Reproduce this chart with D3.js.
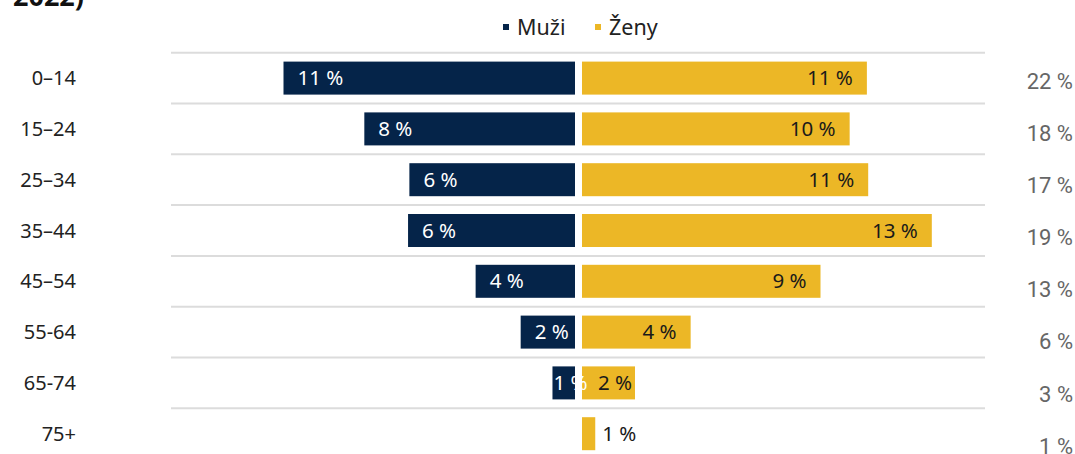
<!DOCTYPE html>
<html>
<head>
<meta charset="UTF-8" />
<title>Věkové složení</title>
<style>
  body { margin: 0; background: #fff; }
  svg { display: block; }
  .grid line { stroke: #dcdcdc; stroke-width: 2px; }
  .age { font-family: "Noto Sans", sans-serif; font-size: 20px; fill: #222; }
  .lbl { font-family: "Noto Sans", sans-serif; font-size: 20.5px; }
  .total { font-family: Roboto, "Liberation Sans", sans-serif; font-size: 22px; fill: #666; }
  .legend text { font-family: "Noto Sans", sans-serif; font-size: 21.5px; fill: #222; }
</style>
<script src="https://d3js.org/d3.v7.min.js"></script>
</head>
<body>
<script>
var ages = ["0–14", "15–24", "25–34", "35–44", "45–54", "55-64", "65-74", "75+"];
var men = [11.0, 7.95, 6.25, 6.3, 3.75, 2.05, 0.85, 0];
var women = [10.75, 10.1, 10.8, 13.2, 9.0, 4.1, 2.0, 0.5];
var menLabels = ["11 %", "8 %", "6 %", "6 %", "4 %", "2 %", "1 %", ""];
var womenLabels = ["11 %", "10 %", "11 %", "13 %", "9 %", "4 %", "2 %", "1 %"];
var totals = ["22 %", "18 %", "17 %", "19 %", "13 %", "6 %", "3 %", "1 %"];
var series = ["Muži", "Ženy"];
var colors = ["#052449", "#ecb726"];

var width = 1075, height = 454;
var center = 578.5, gap = 3.5;

var svg = d3.select("body").append("svg")
    .attr("width", width)
    .attr("height", height);

// title, cut off at the top
svg.append("text")
    .attr("x", 13)
    .attr("y", 6)
    .style("font-family", "'Noto Sans', sans-serif")
    .style("font-weight", "bold")
    .style("font-size", "27px")
    .style("fill", "#111")
    .text("2022)");

// legend
var legend = svg.append("g").attr("class", "legend");
var legX = [503, 595];
series.forEach(function(s, i) {
  legend.append("rect")
    .attr("x", legX[i]).attr("y", 24)
    .attr("width", 6).attr("height", 6)
    .attr("fill", colors[i]);
  legend.append("text")
    .attr("x", legX[i] + 14).attr("y", 34.5)
    .text(s);
});

var y = d3.scaleBand()
    .domain(ages)
    .range([52.7, 52.7 + 50.8 * ages.length])
    .paddingInner(0)
    .paddingOuter(0);

var x = d3.scaleLinear()
    .domain([0, 1])
    .range([0, 26.5]);

// grid lines
svg.append("g").attr("class", "grid")
  .selectAll("line")
  .data(ages)
  .enter().append("line")
    .attr("x1", 171).attr("x2", 985)
    .attr("y1", function(d) { return y(d); })
    .attr("y2", function(d) { return y(d); });

var barH = 33;
function barY(d) { return y(d) + (y.bandwidth() - barH) / 2; }
function midY(d) { return y(d) + y.bandwidth() / 2; }

// age labels
svg.append("g").selectAll("text")
  .data(ages)
  .enter().append("text")
    .attr("class", "age")
    .attr("x", 76)
    .attr("y", function(d) { return midY(d); })
    .attr("dy", "0.35em")
    .attr("text-anchor", "end")
    .text(function(d) { return d; });

// men bars
svg.append("g").selectAll("rect")
  .data(ages)
  .enter().append("rect")
    .attr("x", function(d, i) { return center - gap - x(men[i]); })
    .attr("y", barY)
    .attr("width", function(d, i) { return x(men[i]); })
    .attr("height", barH)
    .attr("fill", colors[0]);

// women bars
svg.append("g").selectAll("rect")
  .data(ages)
  .enter().append("rect")
    .attr("x", center + gap)
    .attr("y", barY)
    .attr("width", function(d, i) { return x(women[i]); })
    .attr("height", barH)
    .attr("fill", colors[1]);

// men labels
svg.append("g").selectAll("text")
  .data(ages)
  .enter().append("text")
    .attr("class", "lbl")
    .attr("x", function(d, i) {
      var w = x(men[i]);
      return center - gap - w + (w > 45 ? 14 : 1);
    })
    .attr("y", midY)
    .attr("dy", "0.35em")
    .style("fill", "#fff")
    .text(function(d, i) { return menLabels[i]; });

// women labels
svg.append("g").selectAll("text")
  .data(ages)
  .enter().append("text")
    .attr("class", "lbl")
    .attr("x", function(d, i) {
      var w = x(women[i]);
      if (w > 80) return center + gap + w - 14;
      if (w > 40) return center + gap + w - 3;
      return center + gap + w + 7;
    })
    .attr("text-anchor", function(d, i) { return x(women[i]) > 40 ? "end" : "start"; })
    .attr("y", midY)
    .attr("dy", "0.35em")
    .style("fill", "#1a1a1a")
    .text(function(d, i) { return womenLabels[i]; });

// totals column
var yTot = d3.scalePoint()
    .domain(ages)
    .range([81, 446]);

svg.append("g").selectAll("text")
  .data(ages)
  .enter().append("text")
    .attr("class", "total")
    .attr("x", 1073)
    .attr("y", function(d) { return yTot(d); })
    .attr("dy", "0.35em")
    .attr("text-anchor", "end")
    .text(function(d, i) { return totals[i]; });
</script>
</body>
</html>
